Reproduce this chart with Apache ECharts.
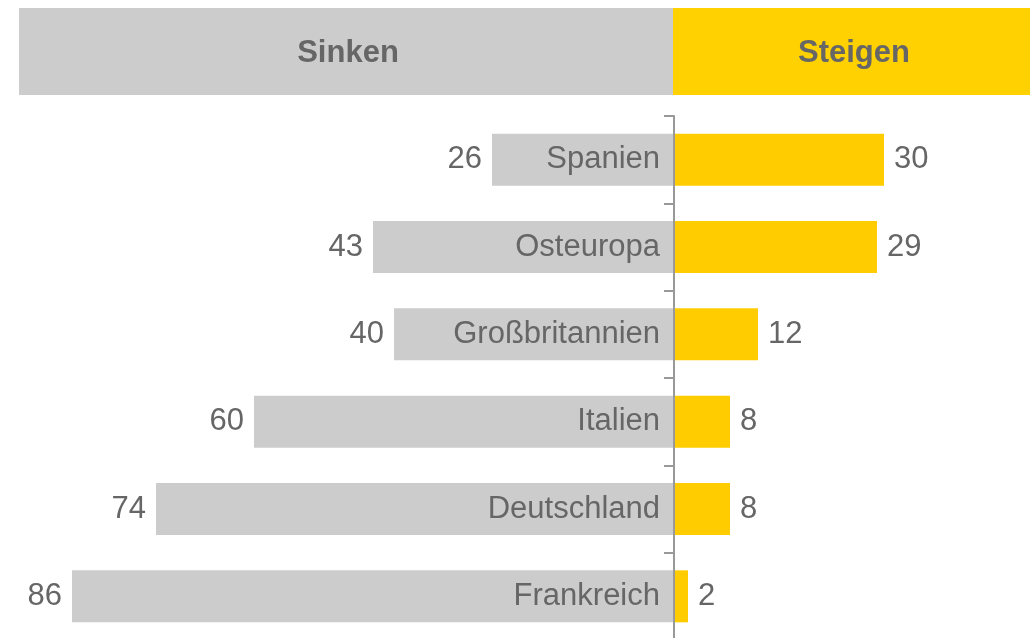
<!DOCTYPE html>
<html>
<head>
<meta charset="utf-8">
<script src="https://cdn.jsdelivr.net/npm/echarts@6/dist/echarts.min.js"></script>
<style>
  html, body { margin: 0; padding: 0; background: #fff; }
  #chart { width: 1035px; height: 638px; }
</style>
</head>
<body>
<div id="chart"></div>
<script>
// Länder von oben nach unten
var laender = ["Spanien", "Osteuropa", "Großbritannien", "Italien", "Deutschland", "Frankreich"];
// Anteil "Sinken" (nach links) und "Steigen" (nach rechts)
var sinken = [26, 43, 40, 60, 74, 86];
var steigen = [30, 29, 12, 8, 8, 2];
var kopf = ["Sinken", "Steigen"];

var grau = "#cccccc";
var gelb = "#ffcc00";
var textFarbe = "#666666";
var schrift = "'Liberation Sans', Arial, sans-serif";

var links = sinken.map(function (v) { return -v; });

var chart = echarts.init(document.getElementById("chart"));
chart.setOption({
  animation: false,
  textStyle: { fontFamily: schrift },
  grid: { left: 44, right: 11, top: 116, bottom: -2, containLabel: false, outerBoundsMode: "none" },
  graphic: [
    {
      type: "rect", left: 19, top: 8,
      shape: { width: 654, height: 87 },
      style: { fill: grau }
    },
    {
      type: "rect", left: 673, top: 8,
      shape: { width: 357, height: 87 },
      style: { fill: "#ffd100" }
    },
    {
      type: "text", x: 348, y: 53,
      style: {
        text: kopf[0], fill: textFarbe, font: "bold 31px " + schrift,
        textAlign: "center", textVerticalAlign: "middle"
      }
    },
    {
      type: "text", x: 854, y: 53,
      style: {
        text: kopf[1], fill: textFarbe, font: "bold 31px " + schrift,
        textAlign: "center", textVerticalAlign: "middle"
      }
    }
  ],
  xAxis: {
    type: "value", min: -90, max: 50, show: false,
    splitLine: { show: false }
  },
  yAxis: {
    type: "category",
    inverse: true,
    data: laender,
    z: 10,
    axisLine: { show: true, onZero: true, lineStyle: { color: "#999999", width: 2 } },
    axisTick: { show: true, inside: false, length: 10, lineStyle: { color: "#999999", width: 2 } },
    axisLabel: { show: false }
  },
  series: [
    {
      name: "Sinken",
      type: "bar",
      stack: "gesamt",
      barWidth: 52,
      barGap: "-100%",
      data: links,
      itemStyle: { color: grau },
      label: {
        show: true, position: "left", distance: 10,
        fontSize: 31, color: textFarbe, fontFamily: schrift,
        formatter: function (p) { return Math.abs(p.value); }
      }
    },
    {
      name: "Steigen",
      type: "bar",
      stack: "gesamt",
      barWidth: 52,
      barGap: "-100%",
      data: steigen,
      itemStyle: { color: gelb },
      label: {
        show: true, position: "right", distance: 10,
        fontSize: 31, color: textFarbe, fontFamily: schrift
      }
    },
    {
      // unsichtbare Balken nur für die Ländernamen
      name: "Land",
      type: "bar",
      barWidth: 52,
      barGap: "-100%",
      z: 5,
      silent: true,
      data: links,
      itemStyle: { color: "rgba(0,0,0,0)" },
      label: {
        show: true, position: "insideRight", distance: 14,
        fontSize: 31, color: textFarbe, fontFamily: schrift,
        formatter: function (p) { return p.name; }
      }
    }
  ]
});
</script>
</body>
</html>
